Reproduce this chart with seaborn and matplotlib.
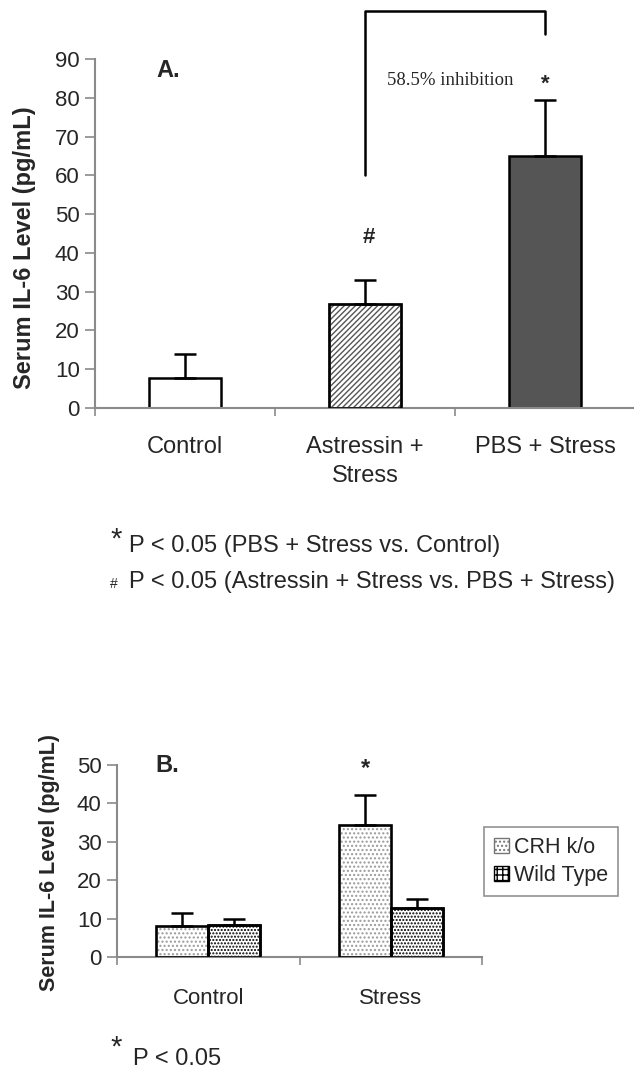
import pandas as pd
import matplotlib
matplotlib.use("Agg")
import matplotlib.pyplot as plt
from matplotlib.patches import Rectangle, Patch
import seaborn as sns

# panel A data
groups_a = ["Control", "Astressin +\nStress", "PBS + Stress"]
il6_a = [7.8, 26.8, 65.0]
sem_a = [6.0, 6.3, 14.3]

# panel B data
conditions_b = ["Control", "Stress"]
genotypes_b = ["CRH k/o", "Wild Type"]
il6_crh = [8.1, 34.3]
il6_wt = [8.3, 12.8]
sem_crh = [3.4, 8.0]
sem_wt = [1.6, 2.4]

sns.set_theme(style="ticks")
plt.rcParams["font.family"] = ["Liberation Sans", "DejaVu Sans"]
plt.rcParams["hatch.linewidth"] = 1.0

AXIS_GRAY = "#8a8a8a"

fig = plt.figure(figsize=(6.34, 10.71), dpi=100)


def style_axes(ax, n_cat):
    sns.despine(ax=ax)
    for side in ["left", "bottom"]:
        ax.spines[side].set_color(AXIS_GRAY)
        ax.spines[side].set_linewidth(1.5)
    ax.set_xlim(-0.5, n_cat - 0.5)
    ax.set_xticks([i - 0.5 for i in range(n_cat + 1)], minor=True)
    ax.tick_params(axis="x", which="major", length=0, pad=20)
    ax.tick_params(axis="x", which="minor", length=6, width=1.2, color=AXIS_GRAY)
    ax.tick_params(axis="y", length=7, width=1.2, color=AXIS_GRAY, pad=4)
    ax.set_xlabel("")


def outline(ax, patch):
    ax.add_patch(Rectangle((patch.get_x(), patch.get_y()), patch.get_width(),
                           patch.get_height(), fill=False, edgecolor="black",
                           linewidth=1.8, zorder=3))


# ---------------- panel A ----------------
axA = fig.add_axes([95 / 634, 1 - 408 / 1071, 540 / 634, 349 / 1071])
df_a = pd.DataFrame({"group": groups_a, "il6": il6_a})
sns.barplot(data=df_a, x="group", y="il6", ax=axA, width=0.4,
            color="white", edgecolor="black", linewidth=1.8, errorbar=None)

fills = ["white", "white", "#555555"]
hatches = [None, "//////", None]
hatch_cols = ["black", "#555555", "black"]
for p, fc, h, hc in zip(axA.patches[:3], fills, hatches, hatch_cols):
    p.set_facecolor(fc)
    if h:
        p.set_hatch(h)
        p.set_edgecolor(hc)
        outline(axA, p)

axA.errorbar(range(len(groups_a)), il6_a, yerr=[[0] * 3, sem_a], fmt="none",
             ecolor="black", elinewidth=1.8, capsize=8, capthick=1.8, zorder=2)

axA.set_ylim(0, 90)
axA.set_yticks(range(0, 91, 10))
style_axes(axA, 3)
axA.tick_params(axis="y", labelsize=16)
axA.tick_params(axis="x", labelsize=17)
for lab in axA.get_xticklabels():
    lab.set_linespacing(1.45)
axA.set_ylabel("Serum IL-6 Level (pg/mL)", fontsize=17, fontweight="bold")
axA.yaxis.set_label_coords(-0.11, 0.46)

axA.text(-0.16, 87, "A.", fontsize=17, fontweight="bold", va="center")
axA.text(1.02, 44, "#", fontsize=16, fontweight="bold", ha="center", va="center")
axA.text(1.12, 84.5, "58.5% inhibition", family="Liberation Serif", fontsize=13.5,
         va="center")
axA.text(2.0, 83.5, "*", fontsize=16, fontweight="bold", ha="center", va="center")
axA.plot([1, 1, 2, 2], [60, 102.5, 102.5, 96.5], color="black", lw=1.8,
         clip_on=False)

fig.text(110 / 634, 1 - 540 / 1071, "*", fontsize=21, va="center")
fig.text(129 / 634, 1 - 546 / 1071, "P < 0.05 (PBS + Stress vs. Control)",
         fontsize=17, va="center")
fig.text(110 / 634, 1 - 584 / 1071, "#", fontsize=10, va="center")
fig.text(129 / 634, 1 - 582 / 1071,
         "P < 0.05 (Astressin + Stress vs. PBS + Stress)", fontsize=17,
         va="center")

# ---------------- panel B ----------------
axB = fig.add_axes([117 / 634, 1 - 957 / 1071, 365 / 634, 192 / 1071])
df_b = pd.DataFrame({
    "condition": conditions_b * 2,
    "genotype": [genotypes_b[0]] * 2 + [genotypes_b[1]] * 2,
    "il6": il6_crh + il6_wt,
})
sns.barplot(data=df_b, x="condition", y="il6", hue="genotype", ax=axB,
            width=0.57, color="white", edgecolor="black", linewidth=1.8,
            errorbar=None, legend=False)

hatch_b = {0: ("....", "#9a9a9a"), 1: (".....", "black")}
for k, (cont, errs) in enumerate(zip(axB.containers, [sem_crh, sem_wt])):
    h, hc = hatch_b[k]
    xs, ys = [], []
    for p in cont.patches:
        p.set_facecolor("white")
        p.set_hatch(h)
        p.set_edgecolor(hc)
        outline(axB, p)
        xs.append(p.get_x() + p.get_width() / 2)
        ys.append(p.get_height())
    axB.errorbar(xs, ys, yerr=[[0] * len(errs), errs], fmt="none",
                 ecolor="black", elinewidth=1.8, capsize=8, capthick=1.8,
                 zorder=2)

axB.set_ylim(0, 50)
axB.set_yticks(range(0, 51, 10))
style_axes(axB, 2)
axB.tick_params(axis="y", labelsize=16)
axB.tick_params(axis="x", labelsize=16, pad=22)
axB.set_ylabel("Serum IL-6 Level (pg/mL)", fontsize=15.5, fontweight="bold")
axB.yaxis.set_label_coords(-0.155, 0.49)

axB.text(-0.29, 50, "B.", fontsize=17, fontweight="bold", va="center")
axB.text(0.86, 49, "*", fontsize=17, fontweight="bold", ha="center", va="center")

handles = [Patch(facecolor="white", edgecolor="#777777", hatch="...."),
           Patch(facecolor="white", edgecolor="black", hatch="+++")]
leg = axB.legend(handles, genotypes_b, loc="upper left",
                 bbox_to_anchor=(484 / 634, 1 - 827 / 1071),
                 bbox_transform=fig.transFigure, fontsize=15.5, frameon=True,
                 fancybox=False, borderaxespad=0, handlelength=0.7,
                 handleheight=0.7, handletextpad=0.25, borderpad=0.45,
                 labelspacing=0.35)
leg.get_frame().set_edgecolor("#777777")
leg.get_frame().set_linewidth(1.2)

fig.text(110 / 634, 1 - 1048 / 1071, "*", fontsize=21, va="center")
fig.text(133 / 634, 1 - 1059 / 1071, "P < 0.05", fontsize=17, va="center")

fig.savefig("out.png", dpi=100)
